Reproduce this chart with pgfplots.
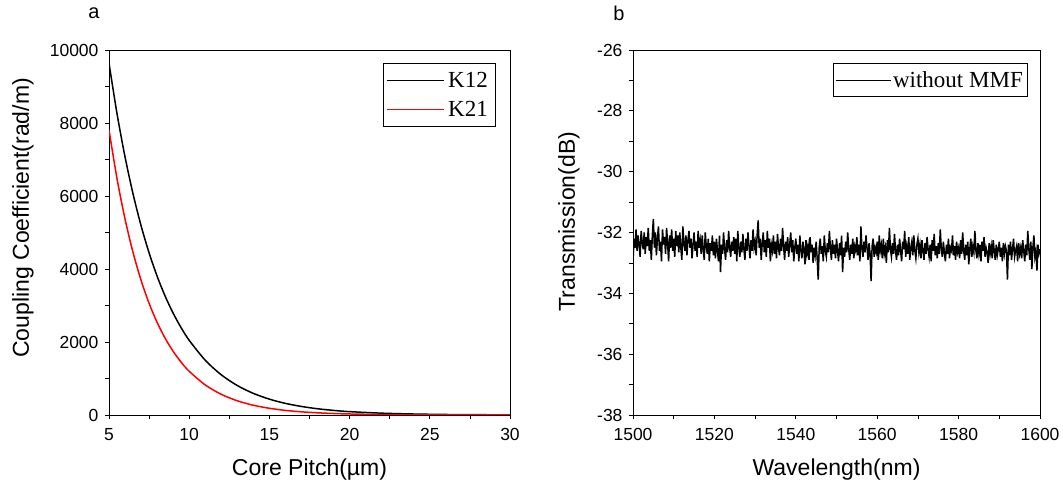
\documentclass[border=0pt]{standalone}
\usepackage{pgfplots}
\pgfplotsset{compat=1.18}
\usepackage{fontspec}
\setmainfont{Liberation Sans}
\newfontfamily\tnr{Liberation Serif}
\begin{document}
\begin{tikzpicture}
\path (0pt,0pt) rectangle (1063pt,489pt);
\pgfplotsset{
  every axis/.append style={
    scale only axis, tick align=outside, tick pos=left,
    major tick length=4pt, minor tick length=4pt,
    scaled x ticks=false, scaled y ticks=false,
    axis line style={line width=0.8pt}, every tick/.style={black, line width=0.7pt},
    tick label style={font=\fontsize{17.5}{20}\selectfont},
    label style={font=\fontsize{23}{27}\selectfont},
    xticklabel style={yshift=-6pt},
    yticklabel style={xshift=-3pt},
  }
}
\begin{axis}[at={(109pt,74pt)}, anchor=south west, width=401pt, height=365pt,
  xmin=5, xmax=30, ymin=0, ymax=10000,
  xtick={5,10,15,20,25,30}, xticklabels={5,10,15,20,25,30},
  minor xtick={7.5,12.5,17.5,22.5,27.5},
  ytick={0,2000,4000,6000,8000,10000}, yticklabels={0,2000,4000,6000,8000,10000},
  minor ytick={1000,3000,5000,7000,9000},
  xlabel={Core Pitch(\textmu m)}, ylabel={Coupling Coefficient(rad/m)},
  xlabel style={at={(axis description cs:0.5,0)}, anchor=center, yshift=-55pt},
  ylabel style={at={(axis description cs:-0.2145,0.54)}, anchor=center},
  legend style={at={(1,1)}, anchor=north east, xshift=-15pt, yshift=-13pt, draw=black,
    font=\tnr\fontsize{23}{26}\selectfont, inner xsep=3pt, inner ysep=5pt, row sep=4pt,
    nodes={inner xsep=4pt, inner ysep=4pt}},
  legend image code/.code={\draw[#1, line width=1.2pt] (0pt,0pt) -- (57pt,0pt);},
]
\addplot[draw=black, line width=1.5pt, smooth] coordinates {
(5,9640)(5.5,8256)(6,7070)(6.5,6055)(7,5185)(7.5,4441)(8,3803)(8.5,3257)(9,2789)(9.5,2389)(10,2046)
(11,1501)(12,1101)(13,807)(14,592)(15,434)(16,318)(17,234)(18,171)(19,126)(20,92)
(22,50)(24,27)(26,14)(28,8)(30,4)};
\addlegendentry{K12}
\addplot[draw=red, line width=1.5pt, smooth] coordinates {
(5,7808)(5.5,6474)(6,5367)(6.5,4450)(7,3690)(7.5,3059)(8,2536)(8.5,2103)(9,1743)(9.5,1445)(10,1198)
(11,823)(12,566)(13,389)(14,267)(15,184)(16,126)(17,87)(18,60)(19,41)(20,28)
(22,13)(24,6)(26,3)(28,1)(30,1)};
\addlegendentry{K21}
\end{axis}
\node[font=\fontsize{20}{24}\selectfont] at (94pt,476pt) {a};
\node[font=\fontsize{20}{24}\selectfont] at (619pt,476pt) {b};
\begin{axis}[at={(633pt,74pt)}, anchor=south west, width=407pt, height=365pt,
  xmin=1500, xmax=1600, ymin=-38, ymax=-26,
  xtick={1500,1520,1540,1560,1580,1600}, xticklabels={1500,1520,1540,1560,1580,1600},
  minor xtick={1510,1530,1550,1570,1590},
  ytick={-38,-36,-34,-32,-30,-28,-26}, yticklabels={-38,-36,-34,-32,-30,-28,-26},
  minor ytick={-37,-35,-33,-31,-29,-27},
  xlabel={Wavelength(nm)}, ylabel={Transmission(dB)},
  xlabel style={at={(axis description cs:0.5,0)}, anchor=center, yshift=-55pt},
  ylabel style={at={(axis description cs:-0.1572,0.53)}, anchor=center},
  legend style={at={(1,1)}, anchor=north east, xshift=-13pt, yshift=-13pt, draw=black,
    font=\tnr\fontsize{23}{26}\selectfont, inner xsep=2pt, inner ysep=6pt},
  legend image code/.code={\draw[#1] (0pt,0pt) -- (55pt,0pt);},
]
\addplot[black, line width=1.5pt, forget plot] table[header=false, x expr=1500+0.25*\coordindex, y index=0] {
-32.95
-32.2
-32.5
-31.9
-32.6
-32.1
-32.4
-32.8
-31.95
-32.3
-32.55
-32.0
-32.7
-32.15
-32.45
-31.85
-32.6
-32.25
-32.9
-32.1
-31.55
-32.5
-32.0
-32.75
-32.2
-31.8
-32.6
-32.3
-32.95
-31.9
-32.4
-32.15
-32.7
-31.85
-32.35
-32.95
-32.1
-32.5
-31.9
-32.6
-32.2
-32.8
-31.95
-32.45
-32.1
-32.65
-32.0
-32.5
-32.9
-31.8
-32.35
-32.6
-32.1
-32.75
-32.25
-31.95
-32.5
-32.2
-32.85
-32.4
-32.0
-32.6
-32.3
-32.8
-31.95
-32.5
-32.25
-32.7
-32.1
-32.55
-32.9
-32.0
-32.45
-32.7
-32.2
-32.95
-32.35
-32.6
-32.1
-32.75
-32.3
-32.85
-32.2
-32.6
-32.95
-32.1
-33.3
-32.4
-32.7
-32.0
-32.55
-32.9
-32.25
-32.65
-31.95
-32.5
-32.8
-32.3
-32.6
-32.15
-32.7
-32.2
-32.95
-31.95
-32.5
-32.8
-32.3
-32.65
-32.05
-32.55
-32.9
-32.2
-32.6
-32.0
-32.45
-32.85
-32.25
-32.6
-31.9
-32.5
-32.3
-32.75
-32.1
-31.6
-32.5
-32.2
-32.9
-32.35
-32.0
-32.65
-32.25
-32.8
-31.95
-32.5
-32.2
-32.95
-32.4
-32.6
-32.1
-32.7
-32.3
-32.85
-32.05
-32.5
-32.75
-32.2
-32.6
-31.85
-32.45
-32.9
-32.3
-32.6
-32.15
-32.8
-32.4
-32.0
-32.65
-32.25
-32.95
-32.5
-32.2
-32.7
-32.4
-32.95
-32.1
-32.6
-32.85
-32.3
-32.55
-33.05
-32.25
-32.7
-32.45
-32.9
-32.15
-32.65
-32.4
-33.0
-32.5
-32.75
-32.3
-32.85
-33.55
-32.5
-32.2
-32.7
-32.45
-32.95
-32.1
-32.6
-32.8
-32.35
-32.65
-31.95
-32.5
-32.9
-32.25
-32.7
-32.4
-32.85
-32.2
-32.6
-32.95
-32.35
-32.75
-32.1
-33.3
-32.5
-32.8
-32.3
-32.65
-32.0
-32.55
-32.9
-32.4
-32.7
-32.2
-32.85
-32.45
-32.6
-32.15
-32.75
-32.4
-32.95
-31.8
-32.55
-32.8
-32.3
-32.65
-32.1
-32.5
-32.9
-32.35
-32.7
-33.6
-32.45
-32.2
-32.8
-32.5
-32.65
-32.3
-32.9
-32.1
-32.6
-32.4
-32.85
-32.2
-32.7
-32.5
-33.0
-32.25
-32.65
-31.85
-32.55
-32.8
-32.35
-32.7
-32.05
-32.6
-32.9
-32.4
-32.75
-32.2
-32.6
-32.95
-32.3
-32.55
-31.95
-32.8
-32.45
-32.7
-32.15
-32.9
-32.5
-32.3
-32.75
-32.1
-32.6
-32.85
-32.4
-32.2
-32.65
-32.4
-32.85
-32.25
-32.6
-32.9
-32.35
-32.7
-32.15
-32.55
-32.8
-32.4
-32.95
-32.25
-32.6
-32.05
-32.75
-32.45
-32.85
-32.35
-32.7
-31.9
-32.55
-32.8
-32.3
-32.65
-32.95
-32.4
-32.7
-32.2
-32.85
-32.5
-32.6
-32.1
-32.75
-32.45
-32.9
-32.3
-32.65
-32.5
-32.85
-32.25
-32.7
-32.0
-32.6
-32.9
-32.4
-32.75
-32.3
-33.05
-32.55
-32.2
-32.8
-32.45
-32.65
-31.95
-32.6
-32.85
-32.35
-32.7
-32.4
-32.95
-32.3
-32.6
-32.15
-32.8
-32.5
-32.65
-33.0
-32.35
-32.7
-32.45
-32.85
-32.25
-32.6
-32.9
-32.4
-32.75
-32.55
-32.3
-32.8
-32.5
-32.95
-32.35
-32.7
-32.45
-32.6
-33.55
-32.4
-32.75
-32.3
-32.9
-32.55
-32.2
-32.8
-32.6
-32.45
-32.95
-32.35
-32.7
-32.5
-32.85
-32.25
-32.6
-32.95
-32.4
-32.75
-31.95
-32.55
-32.9
-32.3
-33.2
-32.5
-32.1
-32.8
-32.6
-33.25
-32.4
-32.7
-32.55
};
\addlegendimage{black, line width=0.8pt}
\addlegendentry{without MMF}
\end{axis}
\end{tikzpicture}
\end{document}
